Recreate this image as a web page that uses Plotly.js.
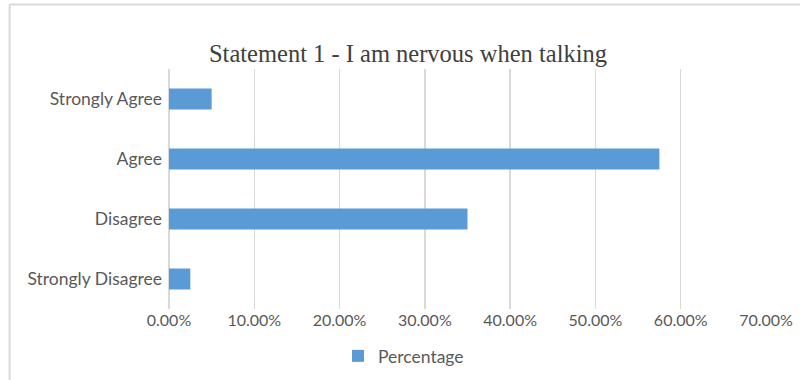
<!DOCTYPE html>
<html>
<head>
<meta charset="utf-8">
<script src="https://cdn.plot.ly/plotly-3.0.1.min.js"></script>
<style>
html,body{margin:0;padding:0;background:#fff;}
#chart{width:800px;height:380px;}
</style>
</head>
<body>
<div id="chart"></div>
<script>
const categories = ["Strongly Disagree", "Disagree", "Agree", "Strongly Agree"];
const percentages = [0.025, 0.35, 0.575, 0.05];
const tickValues = [0, 0.1, 0.2, 0.3, 0.4, 0.5, 0.6, 0.7];
const tickLabels = ["0.00%", "10.00%", "20.00%", "30.00%", "40.00%", "50.00%", "60.00%", "70.00%"];
const seriesName = "Percentage";

const trace = {
  type: "bar",
  orientation: "h",
  y: categories,
  x: percentages,
  name: seriesName,
  marker: {color: "#5b9bd5"},
  hoverinfo: "skip",
  showlegend: true
};

const plotL = 168.5, plotR = 34, plotT = 69, plotB = 71;
const plotW = 800 - plotL - plotR, plotH = 380 - plotT - plotB;
const px2x = p => (p - plotL) / plotW;
const py2y = p => (380 - plotB - p) / plotH;

const layout = {
  width: 800,
  height: 380,
  margin: {l: plotL, r: plotR, t: plotT, b: plotB, pad: 0},
  paper_bgcolor: "#ffffff",
  plot_bgcolor: "#ffffff",
  title: {
    text: "Statement 1 - I am nervous when talking",
    font: {family: "Liberation Serif, Times New Roman, serif", size: 24.5, color: "#404040"},
    xref: "container", x: 408 / 800, xanchor: "center",
    yref: "container", y: 1 - 53 / 380, yanchor: "middle"
  },
  bargap: 0.65,
  xaxis: {
    range: [0, 0.7],
    tickvals: tickValues,
    ticktext: tickLabels,
    showgrid: true,
    gridcolor: "#d9d9d9",
    gridwidth: 1.5,
    zeroline: true,
    zerolinecolor: "#d9d9d9",
    zerolinewidth: 1.5,
    showline: false,
    ticks: "",
    tickfont: {family: "Lato, Open Sans, sans-serif", size: 16, color: "#595959"},
    fixedrange: true
  },
  yaxis: {
    categoryorder: "array",
    categoryarray: categories,
    showgrid: false,
    showline: false,
    zeroline: false,
    ticks: "",
    ticklabelstandoff: 6,
    tickfont: {family: "Lato, Open Sans, sans-serif", size: 17.5, color: "#595959"},
    fixedrange: true
  },
  showlegend: true,
  legend: {
    orientation: "h",
    xref: "container", x: 338 / 800, xanchor: "left",
    yref: "container", y: 1 - 356 / 380, yanchor: "middle",
    font: {family: "Lato, Open Sans, sans-serif", size: 17.5, color: "#595959"},
    itemwidth: 30
  },
  shapes: [
    {type: "line", xref: "paper", yref: "paper", x0: px2x(9), x1: px2x(800), y0: py2y(4.5), y1: py2y(4.5),
     line: {color: "#d9d9d9", width: 2}},
    {type: "line", xref: "paper", yref: "paper", x0: px2x(9), x1: px2x(9), y0: py2y(4.5), y1: py2y(380),
     line: {color: "#d9d9d9", width: 2}}
  ]
};

Plotly.newPlot("chart", [trace], layout, {staticPlot: true, displayModeBar: false});
</script>
</body>
</html>
